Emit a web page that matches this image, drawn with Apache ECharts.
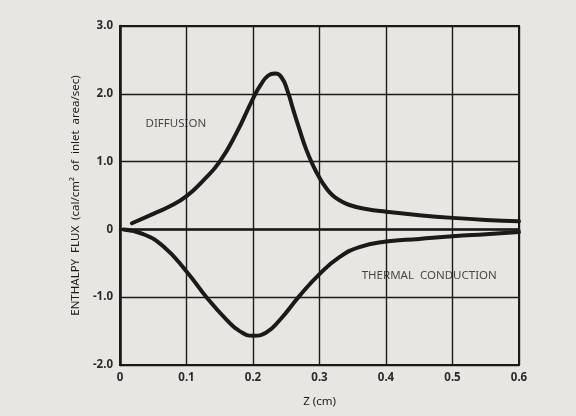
<!DOCTYPE html>
<html>
<head>
<meta charset="utf-8">
<script src="https://cdn.jsdelivr.net/npm/echarts@6/dist/echarts.min.js"></script>
<style>
  html, body { margin: 0; padding: 0; background: #e7e6e2; }
  #main { width: 576px; height: 416px; }
</style>
</head>
<body>
<div id="main"></div>
<script>
// Z (cm) positions and flux values
const diffusionZ = [0.018, 0.05, 0.075, 0.1, 0.125, 0.15, 0.175, 0.2, 0.212, 0.223, 0.233, 0.243, 0.252, 0.26, 0.27, 0.28, 0.29, 0.3, 0.31, 0.32, 0.33, 0.345, 0.37, 0.4, 0.45, 0.5, 0.55, 0.6];
const diffusionFlux = [0.09, 0.23, 0.34, 0.49, 0.72, 1.0, 1.42, 1.93, 2.14, 2.27, 2.30, 2.24, 2.04, 1.78, 1.47, 1.18, 0.95, 0.76, 0.61, 0.50, 0.43, 0.36, 0.30, 0.26, 0.21, 0.17, 0.14, 0.12];

const conductionZ = [0.005, 0.035, 0.065, 0.1, 0.13, 0.16, 0.18, 0.2, 0.22, 0.24, 0.27, 0.3, 0.33, 0.36, 0.4, 0.45, 0.5, 0.55, 0.6];
const conductionFlux = [0, -0.07, -0.25, -0.62, -1.0, -1.33, -1.5, -1.57, -1.52, -1.34, -0.98, -0.66, -0.41, -0.26, -0.18, -0.14, -0.10, -0.07, -0.04];

const xTicks = ['0', '0.1', '0.2', '0.3', '0.4', '0.5', '0.6'];
const yTicks = ['-2.0', '-1.0', '0', '1.0', '2.0', '3.0'];

const curveLabels = ['DIFFUSION', 'THERMAL  CONDUCTION'];
const curveLabelZ = [0.084, 0.465];
const curveLabelFlux = [1.56, -0.68];

function pairs(xs, ys) {
  return xs.map((x, i) => [x, ys[i]]);
}

const ink = '#1b1a19';
const font = 'Noto Sans';

let chart = echarts.init(document.getElementById('main'));
let option = {
  backgroundColor: '#e7e6e2',
  animation: false,
  grid: {
    left: 120, right: 57, top: 26, bottom: 51,
    show: true, borderColor: ink, borderWidth: 2
  },
  xAxis: {
    type: 'value', min: 0, max: 0.6, interval: 0.1,
    name: 'Z (cm)', nameLocation: 'middle', nameGap: 31,
    nameTextStyle: { fontFamily: font, fontSize: 11.5, color: ink },
    axisLine: { lineStyle: { color: ink, width: 2.5 } },
    axisTick: { show: false },
    axisLabel: {
      fontFamily: font, fontSize: 11.5, fontWeight: 'bold', color: '#2a2a2a', margin: 7,
      formatter: (v) => xTicks[Math.round(v * 10)]
    },
    splitLine: { lineStyle: { color: ink, width: 1.4 } }
  },
  yAxis: {
    type: 'value', min: -2, max: 3, interval: 1,
    name: 'ENTHALPY  FLUX  (cal/cm\u00B2  of  inlet  area/sec)',
    nameLocation: 'middle', nameGap: 38,
    nameTextStyle: { fontFamily: font, fontSize: 11.5, color: ink },
    axisLine: { lineStyle: { color: ink, width: 2.5 } },
    axisTick: { show: false },
    axisLabel: {
      fontFamily: font, fontSize: 11.5, fontWeight: 'bold', color: '#2a2a2a', margin: 7,
      formatter: (v) => yTicks[Math.round(v) + 2]
    },
    splitLine: { lineStyle: { color: ink, width: 1.4 } }
  },
  series: [
    {
      name: 'Diffusion', type: 'line', smooth: 0.5, showSymbol: false,
      lineStyle: { color: ink, width: 4, cap: 'round', join: 'round' },
      data: pairs(diffusionZ, diffusionFlux)
    },
    {
      name: 'Thermal conduction', type: 'line', smooth: 0.5, showSymbol: false,
      lineStyle: { color: ink, width: 4, cap: 'round', join: 'round' },
      data: pairs(conductionZ, conductionFlux)
    },
    {
      type: 'scatter', symbolSize: 0, silent: true,
      label: {
        show: true, position: 'inside', fontFamily: font, fontSize: 11.5, color: ink,
        formatter: (p) => curveLabels[p.dataIndex]
      },
      data: pairs(curveLabelZ, curveLabelFlux)
    }
  ]
};
chart.setOption(option);
</script>
</body>
</html>
